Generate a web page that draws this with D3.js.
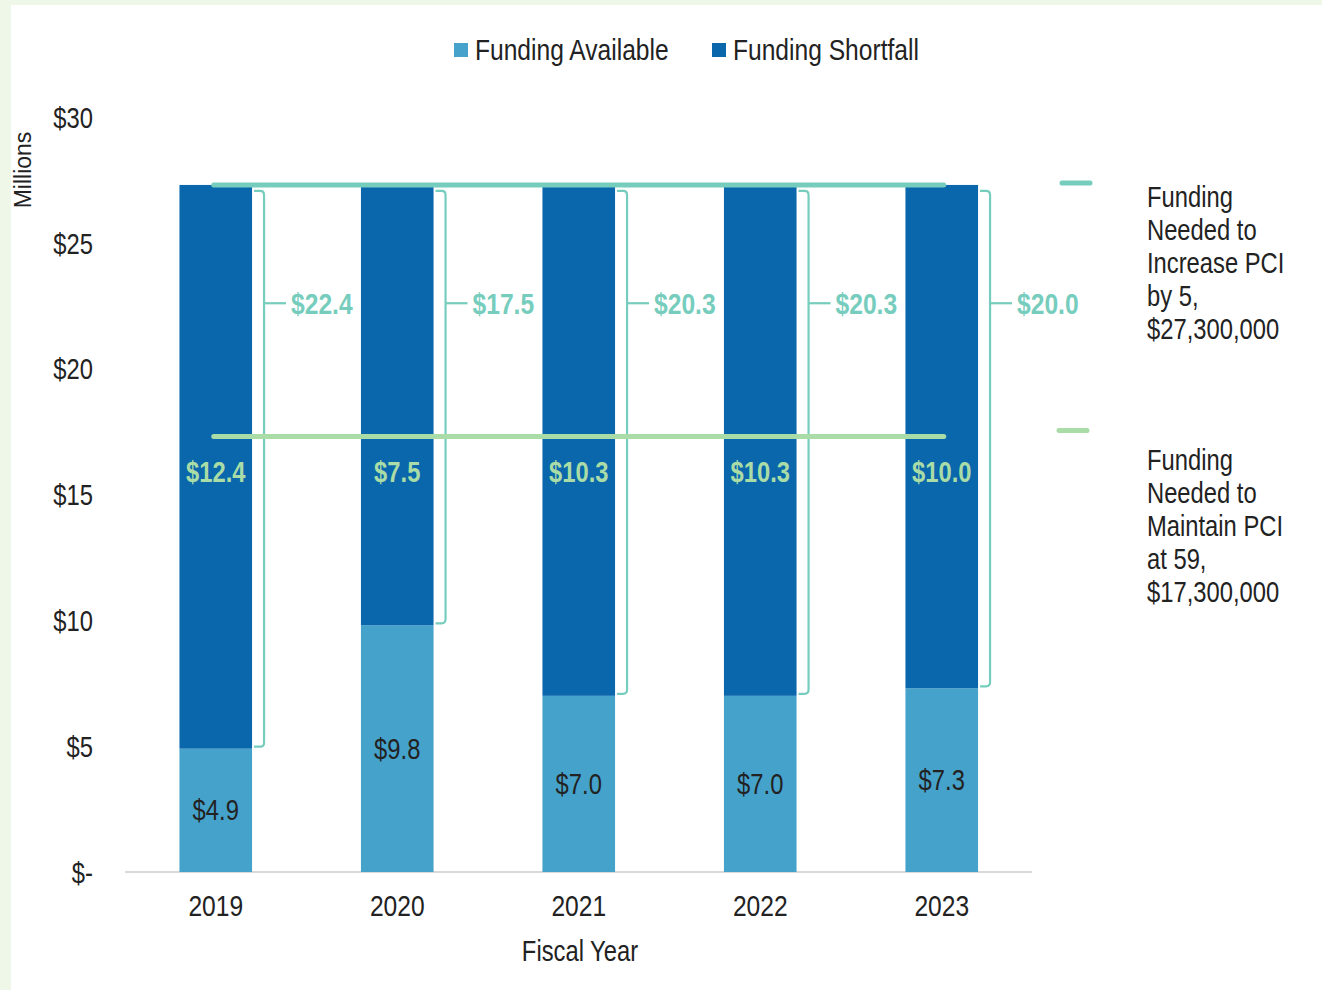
<!DOCTYPE html>
<html>
<head>
<meta charset="utf-8">
<script src="https://cdn.jsdelivr.net/npm/d3@7"></script>
<style>
  body { margin: 0; background: #eef7e8; }
  svg { display: block; }
  text { font-family: "Liberation Sans", Arial, sans-serif; }
</style>
</head>
<body>
<div id="chart"></div>
<script>
// Datos (millones de $)
var years = ["2019", "2020", "2021", "2022", "2023"];
var available = [4.9, 9.8, 7.0, 7.0, 7.3];
var shortfall = [22.4, 17.5, 20.3, 20.3, 20.0];
var maintainGap = [12.4, 7.5, 10.3, 10.3, 10.0];
var increaseNeeded = 27.3;
var maintainNeeded = 17.3;
var yTicks = [0, 5, 10, 15, 20, 25, 30];
var increaseLabel = ["Funding", "Needed to", "Increase PCI", "by 5,", "$27,300,000"];
var maintainLabel = ["Funding", "Needed to", "Maintain PCI", "at 59,", "$17,300,000"];

var colAvail = "#45a2cb";
var colShort = "#0a67ac";
var colTeal = "#76cdbd";
var colGreen = "#a9dca6";
var colText = "#222";
var squeeze = 0.82; // letra estrecha (tipo Arial Narrow)

var W = 1322, H = 990;
var svg = d3.select("#chart").append("svg")
  .attr("width", W)
  .attr("height", H);

// estrecha el texto alrededor de su x
function narrow(sel) {
  sel.attr("transform", function() {
    var cx = +d3.select(this).attr("x") || 0;
    return "translate(" + cx + ",0) scale(" + squeeze + ",1) translate(" + (-cx) + ",0)";
  });
}

// panel blanco
svg.append("rect")
  .attr("x", 11).attr("y", 5)
  .attr("width", W - 11).attr("height", H - 5)
  .attr("fill", "#fff");

var x = d3.scaleBand()
  .domain(years)
  .range([125, 1032.5])
  .paddingInner(0.6)
  .paddingOuter(0.3);

var y = d3.scaleLinear()
  .domain([0, 30])
  .range([872, 117]);

var rows = years.map(function(d, i) {
  return {year: d, avail: available[i], short: shortfall[i], gap: maintainGap[i]};
});

// eje y
var yAxis = d3.axisLeft(y)
  .tickValues(yTicks)
  .tickSize(0)
  .tickPadding(0)
  .tickFormat(function(d) { return d === 0 ? "$-" : "$" + d; });

svg.append("g")
  .attr("transform", "translate(93,0)")
  .call(yAxis)
  .call(function(g) { g.select(".domain").remove(); })
  .selectAll("text")
  .style("font-size", "29px")
  .style("font-family", "'Liberation Sans', Arial, sans-serif")
  .style("fill", colText)
  .attr("x", 0)
  .attr("dy", "0.35em")
  .attr("transform", "scale(" + squeeze + ",1)");

svg.append("text")
  .attr("transform", "translate(31,170) rotate(-90)")
  .style("text-anchor", "middle")
  .style("font-size", "23px")
  .style("fill", colText)
  .text("Millions");

// eje x
var xAxis = d3.axisBottom(x).tickSize(0).tickPadding(0);
svg.append("g")
  .attr("transform", "translate(0,905)")
  .call(xAxis)
  .call(function(g) { g.select(".domain").remove(); })
  .selectAll("text")
  .style("font-size", "30px")
  .style("font-family", "'Liberation Sans', Arial, sans-serif")
  .style("fill", colText)
  .attr("y", 0)
  .attr("dy", "0.35em")
  .attr("transform", "scale(" + squeeze + ",1)");

svg.append("text")
  .attr("x", 580).attr("y", 951)
  .attr("dy", "0.35em")
  .style("text-anchor", "middle")
  .style("font-size", "29px")
  .style("fill", colText)
  .text("Fiscal Year")
  .call(narrow);

svg.append("line")
  .attr("x1", 125).attr("x2", 1032)
  .attr("y1", y(0)).attr("y2", y(0))
  .attr("stroke", "#d9d9d9")
  .attr("stroke-width", 2);

// barras apiladas
var bars = svg.append("g").classed("bars", true);

bars.selectAll(".avail")
  .data(rows)
  .enter()
  .append("rect")
  .classed("avail", true)
  .attr("x", function(d) { return x(d.year); })
  .attr("width", x.bandwidth())
  .attr("y", function(d) { return y(d.avail); })
  .attr("height", function(d) { return y(0) - y(d.avail); })
  .attr("fill", colAvail);

bars.selectAll(".short")
  .data(rows)
  .enter()
  .append("rect")
  .classed("short", true)
  .attr("x", function(d) { return x(d.year); })
  .attr("width", x.bandwidth())
  .attr("y", function(d) { return y(d.avail + d.short); })
  .attr("height", function(d) { return y(d.avail) - y(d.avail + d.short); })
  .attr("fill", colShort);

// etiquetas dentro de las barras
bars.selectAll(".avail-label")
  .data(rows)
  .enter()
  .append("text")
  .classed("avail-label", true)
  .attr("x", function(d) { return x(d.year) + x.bandwidth() / 2; })
  .attr("y", function(d) { return y(d.avail / 2); })
  .attr("dy", "0.35em")
  .style("text-anchor", "middle")
  .style("font-size", "29px")
  .style("fill", colText)
  .text(function(d) { return "$" + d.avail.toFixed(1); })
  .call(narrow);

bars.selectAll(".gap-label")
  .data(rows)
  .enter()
  .append("text")
  .classed("gap-label", true)
  .attr("x", function(d) { return x(d.year) + x.bandwidth() / 2; })
  .attr("y", y(15.9))
  .attr("dy", "0.35em")
  .style("text-anchor", "middle")
  .style("font-size", "29px")
  .style("font-weight", "bold")
  .style("fill", colGreen)
  .text(function(d) { return "$" + d.gap.toFixed(1); })
  .call(narrow);

// corchetes del deficit
var brackets = svg.append("g").classed("brackets", true);

brackets.selectAll("path")
  .data(rows)
  .enter()
  .append("path")
  .attr("d", function(d) {
    var x0 = x(d.year) + x.bandwidth() + 2;
    var x1 = x0 + 10;
    var top = y(d.avail + d.short) + 6;
    var bot = y(d.avail) - 2;
    var r = 4;
    return "M" + x0 + "," + top + "H" + (x1 - r) + "Q" + x1 + "," + top + " " + x1 + "," + (top + r) +
      "V" + (bot - r) + "Q" + x1 + "," + bot + " " + (x1 - r) + "," + bot + "H" + x0;
  })
  .attr("fill", "none")
  .attr("stroke", colTeal)
  .attr("stroke-width", 2.2);

brackets.selectAll(".tick-line")
  .data(rows)
  .enter()
  .append("line")
  .classed("tick-line", true)
  .attr("x1", function(d) { return x(d.year) + x.bandwidth() + 12; })
  .attr("x2", function(d) { return x(d.year) + x.bandwidth() + 34; })
  .attr("y1", y(22.6)).attr("y2", y(22.6))
  .attr("stroke", colTeal)
  .attr("stroke-width", 2.2);

brackets.selectAll(".short-label")
  .data(rows)
  .enter()
  .append("text")
  .classed("short-label", true)
  .attr("x", function(d) { return x(d.year) + x.bandwidth() + 39; })
  .attr("y", y(22.6))
  .attr("dy", "0.35em")
  .style("font-size", "30px")
  .style("font-weight", "bold")
  .style("fill", colTeal)
  .text(function(d) { return "$" + d.short.toFixed(1); })
  .call(narrow);

// lineas objetivo
var xFirst = x(years[0]) + x.bandwidth() / 2 - 2;
var xLast = x(years[years.length - 1]) + x.bandwidth() / 2 + 2;

svg.append("line")
  .attr("x1", xFirst).attr("x2", xLast)
  .attr("y1", y(increaseNeeded)).attr("y2", y(increaseNeeded))
  .attr("stroke", colTeal)
  .attr("stroke-width", 5)
  .attr("stroke-linecap", "round");

svg.append("line")
  .attr("x1", xFirst).attr("x2", xLast)
  .attr("y1", y(maintainNeeded)).attr("y2", y(maintainNeeded))
  .attr("stroke", colGreen)
  .attr("stroke-width", 5)
  .attr("stroke-linecap", "round");

// leyenda superior
var legend = svg.append("g").classed("legend", true);
var legendItems = [
  {label: "Funding Available", color: colAvail, x: 454},
  {label: "Funding Shortfall", color: colShort, x: 712}
];
legendItems.forEach(function(it) {
  legend.append("rect")
    .attr("x", it.x).attr("y", 43)
    .attr("width", 14).attr("height", 14)
    .attr("fill", it.color);
  legend.append("text")
    .attr("x", it.x + 21).attr("y", 50)
    .attr("dy", "0.35em")
    .style("font-size", "30px")
    .style("fill", colText)
    .text(it.label)
    .call(narrow);
});

// leyenda derecha de las lineas
function sideLabel(lines, color, yLine, dashX, textY) {
  svg.append("line")
    .attr("x1", dashX).attr("x2", dashX + 28)
    .attr("y1", yLine).attr("y2", yLine)
    .attr("stroke", color)
    .attr("stroke-width", 5)
    .attr("stroke-linecap", "round");
  var t = svg.append("text")
    .attr("x", 1147)
    .attr("y", textY)
    .style("font-size", "29px")
    .style("fill", colText);
  lines.forEach(function(l, i) {
    t.append("tspan")
      .attr("x", 1147)
      .attr("dy", i === 0 ? "0.35em" : 33)
      .text(l);
  });
  t.call(narrow);
}
sideLabel(increaseLabel, colTeal, y(increaseNeeded) - 2, 1062, 197);
sideLabel(maintainLabel, colGreen, y(maintainNeeded) - 6, 1059, 460);
</script>
</body>
</html>
